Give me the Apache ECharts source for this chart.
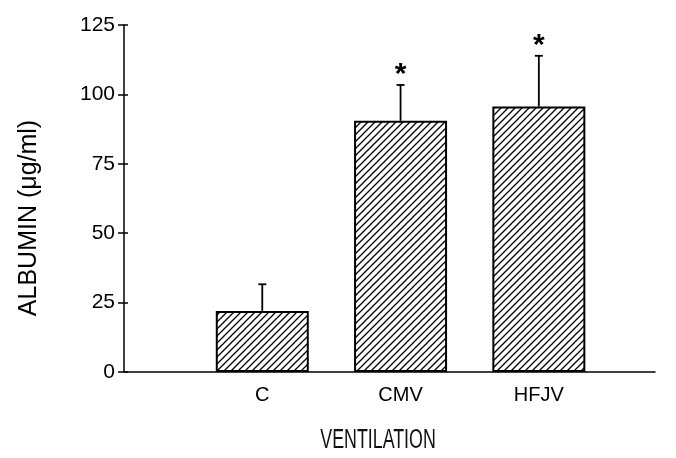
<!DOCTYPE html>
<html>
<head>
<meta charset="utf-8">
<script src="https://cdn.jsdelivr.net/npm/echarts@6/dist/echarts.min.js"></script>
<style>
html,body{margin:0;padding:0;background:#fff;}
#chart{width:676px;height:458px;}
</style>
</head>
<body>
<div id="chart"></div>
<script>
var categories = ['C', 'CMV', 'HFJV'];
var positions = [1, 2, 3];
var albumin = [22.0, 90.5, 95.6];
var errorUp = [9.6, 12.9, 18.3];
var significant = [false, true, true];
var yMin = 0, yMax = 125, yStep = 25;
var xMax = 3.84;

function hatch() {
  var s = 7;
  var c = document.createElement('canvas');
  c.width = s; c.height = s;
  var g = c.getContext('2d');
  g.fillStyle = '#fff';
  g.fillRect(0, 0, s, s);
  g.strokeStyle = '#000';
  g.lineWidth = 1.3;
  g.beginPath();
  g.moveTo(-1, s + 1); g.lineTo(s + 1, -1);
  g.moveTo(-2, 2); g.lineTo(2, -2);
  g.moveTo(s - 2, s + 2); g.lineTo(s + 2, s - 2);
  g.stroke();
  return c;
}

var barData = positions.map(function (p, i) { return [p, albumin[i]]; });
var errData = positions.map(function (p, i) { return [p, albumin[i], albumin[i] + errorUp[i], significant[i] ? 1 : 0]; });

var chart = echarts.init(document.getElementById('chart'), null, {renderer: 'canvas'});
var font = 'Liberation Sans, Arial, sans-serif';
chart.setOption({
  animation: false,
  backgroundColor: '#fff',
  grid: {left: 124, right: 21, top: 25, bottom: 86, containLabel: false},
  xAxis: {
    type: 'value', min: 0, max: xMax, interval: 1,
    axisLine: {show: true, onZero: false, lineStyle: {color: '#000', width: 1.5}},
    axisTick: {show: false},
    splitLine: {show: false},
    axisLabel: {
      showMinLabel: false, showMaxLabel: false, margin: 13,
      color: '#000', fontSize: 20, fontFamily: font,
      formatter: function (v) { var i = positions.indexOf(v); return i >= 0 ? categories[i] : ''; }
    }
  },
  yAxis: [{
    type: 'value', min: yMin, max: yMax, interval: yStep,
    axisLine: {show: true, lineStyle: {color: '#000', width: 1.5}},
    axisTick: {show: true, length: 6, lineStyle: {color: '#000', width: 1.5}},
    splitLine: {show: false},
    axisLabel: {color: '#000', fontSize: 21, fontFamily: font, margin: 9}
  }, {
    type: 'value', min: yMin, max: yMax, interval: yStep, position: 'left',
    axisLine: {show: false},
    axisTick: {show: true, inside: true, length: 4, lineStyle: {color: '#000', width: 1.5}},
    splitLine: {show: false},
    axisLabel: {show: false}
  }],
  graphic: [{
    type: 'text', x: 29, y: 218, rotation: Math.PI / 2,
    style: {text: 'ALBUMIN (μg/ml)', fill: '#000', font: '25px ' + font, align: 'center', verticalAlign: 'middle'}
  }, {
    type: 'text', x: 378, y: 441, scaleX: 0.66,
    style: {text: 'VENTILATION', fill: '#111', font: '27px ' + font, align: 'center', verticalAlign: 'middle'}
  }],
  series: [{
    type: 'bar',
    data: barData,
    barWidth: 93,
    itemStyle: {color: {image: hatch(), repeat: 'repeat'}, borderColor: '#000', borderWidth: 2},
    z: 2
  }, {
    type: 'custom',
    data: errData,
    z: 3,
    renderItem: function (params, api) {
      var x = api.value(0);
      var base = api.coord([x, api.value(1)]);
      var top = api.coord([x, api.value(2)]);
      var children = [
        {type: 'line', shape: {x1: base[0], y1: base[1], x2: top[0], y2: top[1]}, style: {stroke: '#000', lineWidth: 1.8}},
        {type: 'line', shape: {x1: top[0] - 4, y1: top[1], x2: top[0] + 4, y2: top[1]}, style: {stroke: '#000', lineWidth: 1.8}}
      ];
      if (api.value(3) === 1) {
        children.push({type: 'text', x: top[0], y: top[1] - 10, style: {text: '*', fill: '#000', font: 'bold 30px ' + font, align: 'center', verticalAlign: 'middle'}});
      }
      return {type: 'group', children: children};
    }
  }]
});
</script>
</body>
</html>
